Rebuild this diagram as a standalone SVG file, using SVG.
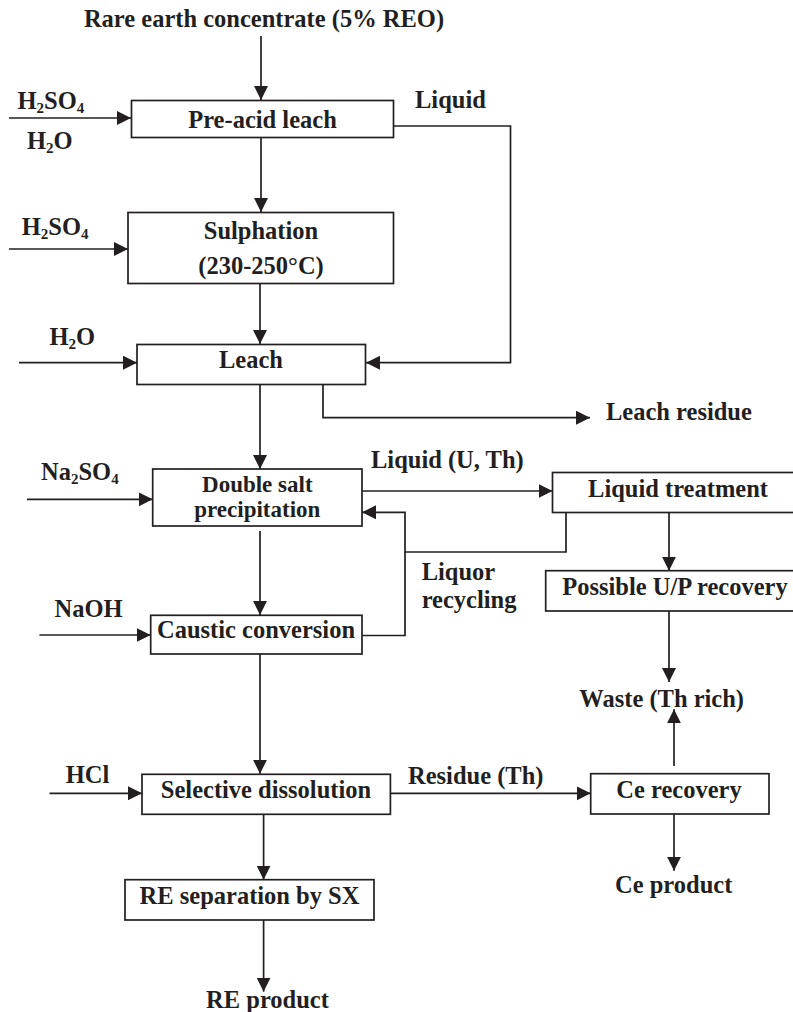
<svg xmlns="http://www.w3.org/2000/svg" width="793" height="1012" viewBox="0 0 793 1012">
<style>
  .box { fill: #ffffff; stroke: #231f20; stroke-width: 1.7; }
  .ln { fill: none; stroke: #231f20; stroke-width: 1.7; }
  .arr { fill: none; stroke: #231f20; stroke-width: 1.7; marker-end: url(#ah); }
  text { font-family: "Liberation Serif", "Times New Roman", serif; font-weight: bold; font-size: 24.5px; fill: #231f20; }
  .c { text-anchor: middle; }
  .sub { font-size: 15px; }
  .sm { font-size: 23px; }
</style>
<defs>
  <marker id="ah" markerUnits="userSpaceOnUse" markerWidth="15" markerHeight="15" refX="14" refY="7" orient="auto">
    <path d="M0,0 L14,7 L0,14 z" fill="#231f20"/>
  </marker>
</defs>
<rect width="793" height="1012" fill="#ffffff"/>

<g id="connectors">
  <path class="arr" d="M261,36 V100"/>
  <path class="arr" d="M9,118 H131"/>
  <path class="arr" d="M393.5,126 H510.5 V362.7 H366"/>
  <path class="arr" d="M261,137.5 V212"/>
  <path class="arr" d="M9,249 H128"/>
  <path class="arr" d="M260,283.5 V344"/>
  <path class="arr" d="M19,362.7 H137"/>
  <path class="arr" d="M323,384.5 V417.7 H590"/>
  <path class="arr" d="M260,384.5 V469"/>
  <path class="arr" d="M27,499.3 H152.7"/>
  <path class="arr" d="M362,491 H552.5"/>
  <path class="arr" d="M566,512.5 V552 H405 V512.3 H362"/>
  <path class="ln" d="M362,635.5 H405 V552"/>
  <path class="arr" d="M669,512.5 V570.7"/>
  <path class="arr" d="M669,611 V682"/>
  <path class="arr" d="M260,531 V615"/>
  <path class="arr" d="M39.4,635 H150.7"/>
  <path class="arr" d="M260,654 V773.8"/>
  <path class="arr" d="M49.5,793.3 H142"/>
  <path class="arr" d="M390.4,793.3 H590.7"/>
  <path class="arr" d="M674,766 V709.3"/>
  <path class="arr" d="M674,814 V870.7"/>
  <path class="arr" d="M263.6,814.3 V879.7"/>
  <path class="arr" d="M263.6,920 V991.7"/>
</g>

<g id="labels">
  <text class="c" x="264" y="27">Rare earth concentrate (5% REO)</text>
  <text x="17.5" y="109">H<tspan class="sub" dy="4">2</tspan><tspan dy="-4">SO</tspan><tspan class="sub" dy="4">4</tspan></text>
  <text x="27" y="149">H<tspan class="sub" dy="4">2</tspan><tspan dy="-4">O</tspan></text>
  <text x="415" y="107.5">Liquid</text>
  <text x="21.7" y="234.5">H<tspan class="sub" dy="4">2</tspan><tspan dy="-4">SO</tspan><tspan class="sub" dy="4">4</tspan></text>
  <text x="49.5" y="345">H<tspan class="sub" dy="4">2</tspan><tspan dy="-4">O</tspan></text>
  <text x="606" y="420">Leach residue</text>
  <text x="41" y="480">Na<tspan class="sub" dy="4">2</tspan><tspan dy="-4">SO</tspan><tspan class="sub" dy="4">4</tspan></text>
  <text x="371" y="468.3">Liquid (U, Th)</text>
  <text x="421.7" y="580">Liquor</text>
  <text x="421.7" y="608.3">recycling</text>
  <text x="54.5" y="616.7">NaOH</text>
  <text x="579.3" y="706.7">Waste (Th rich)</text>
  <text x="65.7" y="783.3">HCl</text>
  <text x="408" y="784">Residue (Th)</text>
  <text x="615" y="892.7">Ce product</text>
  <text class="c" x="267.5" y="1008">RE product</text>
</g>

<g id="node-preacid">
  <rect class="box" x="131.5" y="100.5" width="262" height="37"/>
  <text class="c" x="262.5" y="128">Pre-acid leach</text>
</g>
<g id="node-sulphation">
  <rect class="box" x="128" y="212.5" width="265.5" height="71"/>
  <text class="c" x="261" y="239">Sulphation</text>
  <text class="c" x="261" y="273.5">(230-250°C)</text>
</g>
<g id="node-leach">
  <rect class="box" x="137" y="344.5" width="228.5" height="40"/>
  <text class="c" x="251" y="368">Leach</text>
</g>
<g id="node-doublesalt">
  <rect class="box" x="152.7" y="469" width="209.3" height="57"/>
  <text class="c sm" x="257.3" y="491.5">Double salt</text>
  <text class="c sm" x="257.3" y="517">precipitation</text>
</g>
<g id="node-liquidtreatment">
  <rect class="box" x="552.5" y="472.5" width="260" height="40"/>
  <text class="c" x="678" y="496.5">Liquid treatment</text>
</g>
<g id="node-possible">
  <rect class="box" x="545.7" y="570.7" width="260" height="40.3"/>
  <text class="c" x="675" y="595">Possible U/P recovery</text>
</g>
<g id="node-caustic">
  <rect class="box" x="150.7" y="615.3" width="211.3" height="38.7"/>
  <text class="c" x="256" y="638.3">Caustic conversion</text>
</g>
<g id="node-selective">
  <rect class="box" x="142" y="774.3" width="248.4" height="40"/>
  <text class="c" x="266" y="797.5">Selective dissolution</text>
</g>
<g id="node-cerecovery">
  <rect class="box" x="590.7" y="773.7" width="178.3" height="40.3"/>
  <text class="c" x="679" y="797.5">Ce recovery</text>
</g>
<g id="node-resep">
  <rect class="box" x="125" y="879.7" width="249" height="40.3"/>
  <text class="c" x="249.5" y="904.3">RE separation by SX</text>
</g>
</svg>
